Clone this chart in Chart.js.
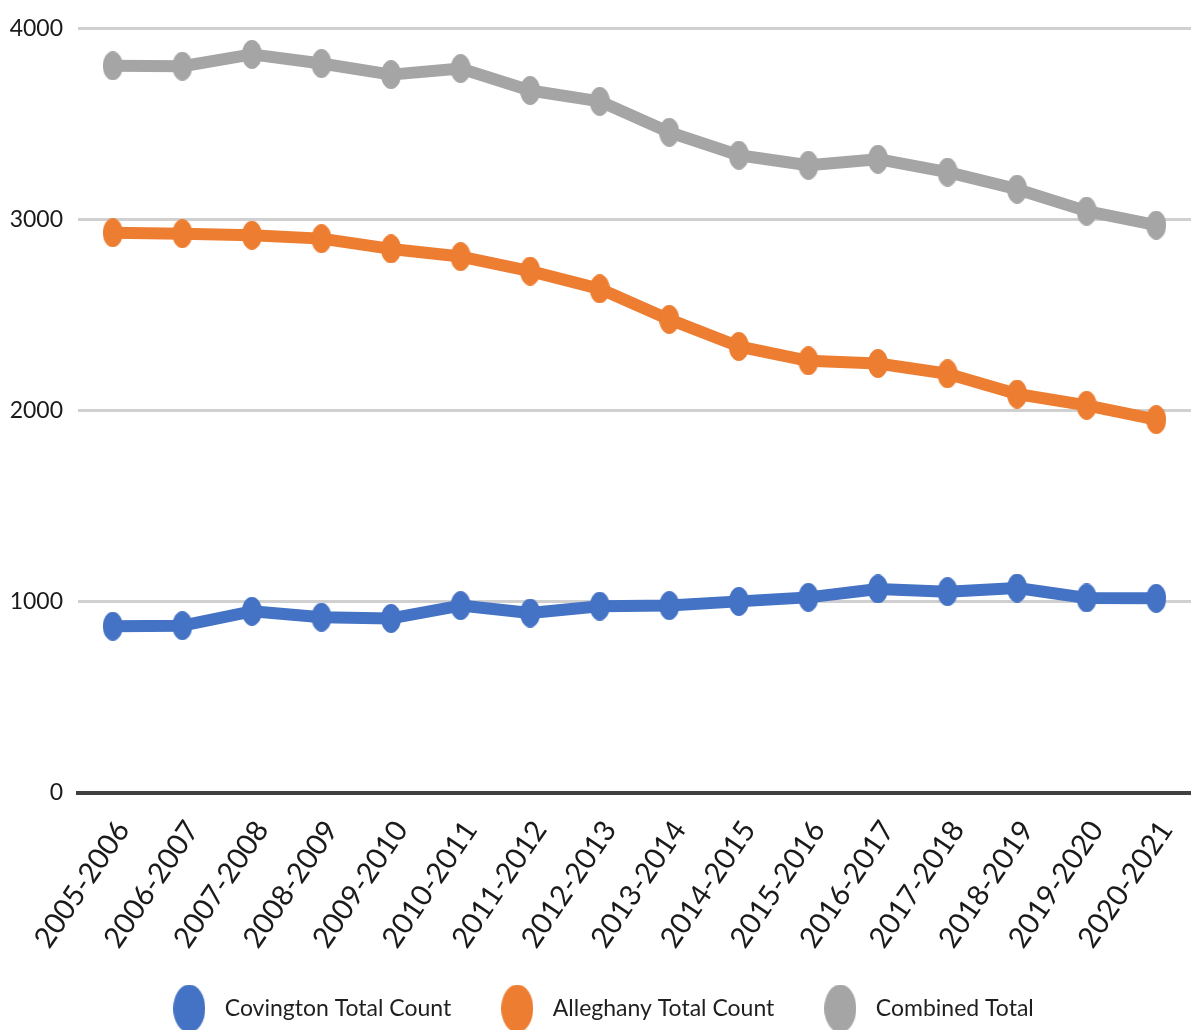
<!DOCTYPE html>
<html>
<head>
<meta charset="utf-8">
<script src="https://cdn.jsdelivr.net/npm/chart.js@4/dist/chart.umd.min.js"></script>
<style>
  html, body { margin: 0; padding: 0; background: #ffffff; }
  #c { display: block; }
</style>
</head>
<body>
<canvas id="c" width="1191" height="1036"></canvas>
<script>
// School years on the category axis
const years = [
  '2005-2006', '2006-2007', '2007-2008', '2008-2009', '2009-2010', '2010-2011',
  '2011-2012', '2012-2013', '2013-2014', '2014-2015', '2015-2016', '2016-2017',
  '2017-2018', '2018-2019', '2019-2020', '2020-2021'
];

// Enrollment counts per year
const covington = [871, 874, 949, 918, 912, 979, 940, 976, 979, 1001, 1022, 1066, 1052, 1071, 1019, 1017];
const alleghany = [2932, 2927, 2919, 2901, 2847, 2807, 2731, 2638, 2478, 2336, 2261, 2247, 2193, 2087, 2028, 1953];
const combined  = [3806, 3804, 3866, 3818, 3760, 3792, 3677, 3620, 3458, 3338, 3285, 3317, 3249, 3160, 3045, 2972];

// Value axis ticks
const yTicks = [0, 1000, 2000, 3000, 4000];

const seriesNames = ['Covington Total Count', 'Alleghany Total Count', 'Combined Total'];
const seriesColors = ['#4472C4', '#ED7D31', '#A5A5A5'];

// Oval marker drawn once and reused as a point style
function ovalMarker(color, w, h) {
  const cv = document.createElement('canvas');
  cv.width = w;
  cv.height = h;
  const g = cv.getContext('2d');
  g.fillStyle = color;
  g.beginPath();
  g.ellipse(w / 2, h / 2, w / 2, h / 2, 0, 0, Math.PI * 2);
  g.fill();
  return cv;
}

const pointMarks = seriesColors.map(c => ovalMarker(c, 20, 29));
const legendMarks = seriesColors.map(c => ovalMarker(c, 32, 48));

const CANVAS_H = 1036;
const PLOT_LEFT = 78;
const PLOT_BOTTOM = 792.5;
const PAD_BOTTOM = 6;

function makeSet(i, values) {
  return {
    label: seriesNames[i],
    data: values,
    borderColor: seriesColors[i],
    backgroundColor: seriesColors[i],
    borderWidth: 12,
    borderJoinStyle: 'round',
    borderCapStyle: 'round',
    tension: 0,
    fill: false,
    pointStyle: pointMarks[i],
    pointRadius: 10,
    pointHoverRadius: 10
  };
}

new Chart(document.getElementById('c'), {
  type: 'line',
  data: {
    labels: years,
    datasets: [
      makeSet(0, covington),
      makeSet(1, alleghany),
      makeSet(2, combined)
    ]
  },
  options: {
    responsive: false,
    devicePixelRatio: 1,
    animation: false,
    events: [],
    layout: {
      autoPadding: false,
      padding: { top: 26, left: 0, right: -8, bottom: PAD_BOTTOM }
    },
    plugins: {
      tooltip: { enabled: false },
      legend: {
        position: 'bottom',
        labels: {
          usePointStyle: true,
          pointStyleWidth: 48,
          padding: 42,
          color: '#1f1f1f',
          font: { family: 'Lato, sans-serif', size: 23 },
          generateLabels(chart) {
            const items = Chart.defaults.plugins.legend.labels.generateLabels(chart);
            items.forEach((it, idx) => { it.pointStyle = legendMarks[idx]; });
            return items;
          }
        }
      }
    },
    scales: {
      x: {
        offset: true,
        grid: { display: false, drawTicks: false },
        border: { display: true, color: '#404040', width: 4 },
        ticks: {
          autoSkip: false,
          minRotation: 56,
          maxRotation: 56,
          padding: 22,
          labelOffset: 10,
          color: '#1a1a1a',
          font: { family: 'Lato, sans-serif', size: 29 }
        },
        afterFit(s) {
          s.height = CANVAS_H - PAD_BOTTOM - s.chart.legend.height - PLOT_BOTTOM;
          s.paddingLeft = 0;
          s.paddingRight = 0;
        }
      },
      y: {
        min: 0,
        max: 4000,
        afterBuildTicks(s) {
          s.ticks = yTicks.map(v => ({ value: v }));
        },
        grid: {
          color: '#d0d0d0',
          lineWidth: 3,
          drawTicks: false
        },
        border: { display: false },
        ticks: {
          padding: 15,
          color: '#1a1a1a',
          font: { family: 'Lato, sans-serif', size: 23 },
          callback: v => String(v)
        },
        afterFit(s) {
          s.width = PLOT_LEFT;
        }
      }
    }
  }
});
</script>
</body>
</html>
